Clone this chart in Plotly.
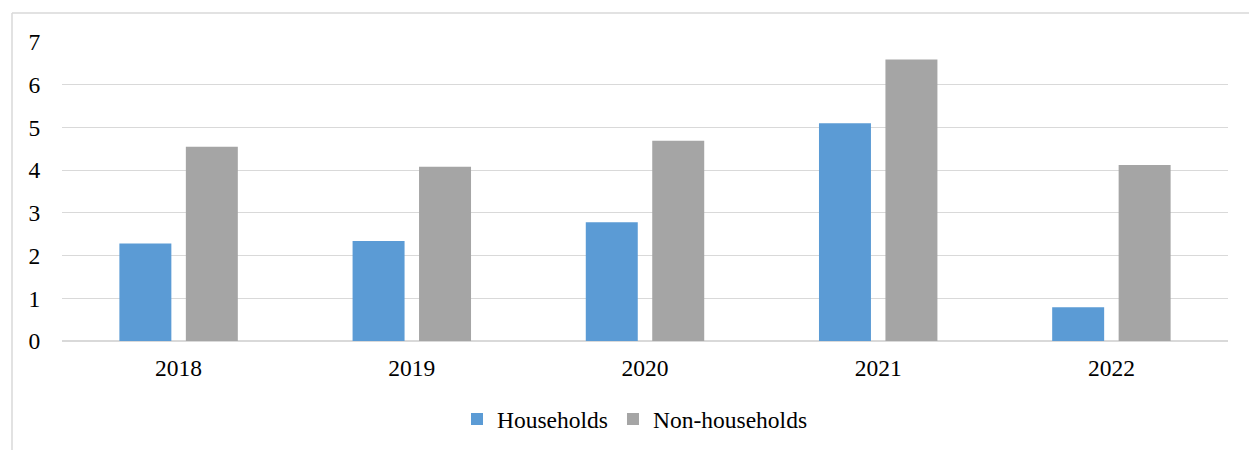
import plotly.graph_objects as go

years = ["2018", "2019", "2020", "2021", "2022"]
households = [2.28, 2.34, 2.78, 5.10, 0.79]
non_households = [4.55, 4.08, 4.69, 6.59, 4.12]

FONT = "Times New Roman, Liberation Serif, DejaVu Serif, serif"
GRID = "#d9d9d9"
FS = 23.5

fig = go.Figure()
fig.add_trace(go.Bar(name="Households", x=years, y=households,
                     marker=dict(color="#5b9bd5", line=dict(width=0))))
fig.add_trace(go.Bar(name="Non-households", x=years, y=non_households,
                     marker=dict(color="#a5a5a5", line=dict(width=0))))

W, H = 1249, 450
L, R, T, B = 62, 21, 41.5, 109.3
pw, ph = W - L - R, H - T - B

def px_to_paper_x(px):
    return (px - L) / pw

def px_to_paper_y(py):
    return (H - B - py) / ph

fig.update_layout(
    width=W, height=H,
    margin=dict(l=L, r=R, t=T, b=B, pad=0, autoexpand=False),
    paper_bgcolor="white", plot_bgcolor="white",
    barmode="group", bargap=0.43, bargroupgap=0.218,
    font=dict(family=FONT, size=FS, color="black"),
    showlegend=True,
    legend=dict(orientation="h", x=px_to_paper_x(457), xanchor="left", y=px_to_paper_y(419),
                yanchor="middle", font=dict(family=FONT, size=FS, color="black"),
                itemwidth=30, bgcolor="rgba(0,0,0,0)"),
    xaxis=dict(showgrid=False, showline=False, zeroline=False,
               ticks="outside", ticklen=6, tickcolor="rgba(0,0,0,0)",
               tickfont=dict(family=FONT, size=FS, color="black"), fixedrange=True),
    yaxis=dict(range=[0, 7], dtick=1, showgrid=True, gridcolor=GRID, gridwidth=1.2,
               zeroline=True, zerolinecolor=GRID, zerolinewidth=1.5, showline=False,
               ticks="outside", ticklen=16, tickcolor="rgba(0,0,0,0)",
               tickfont=dict(family=FONT, size=FS, color="black"), fixedrange=True),
    shapes=[
        dict(type="line", xref="paper", yref="paper",
             x0=px_to_paper_x(12), x1=px_to_paper_x(1260),
             y0=px_to_paper_y(12.5), y1=px_to_paper_y(12.5),
             line=dict(color=GRID, width=1.5)),
        dict(type="line", xref="paper", yref="paper",
             x0=px_to_paper_x(12), x1=px_to_paper_x(12),
             y0=px_to_paper_y(12.5), y1=px_to_paper_y(460),
             line=dict(color=GRID, width=1.5)),
    ],
)

fig.write_html("out.html", config={"displayModeBar": False})
